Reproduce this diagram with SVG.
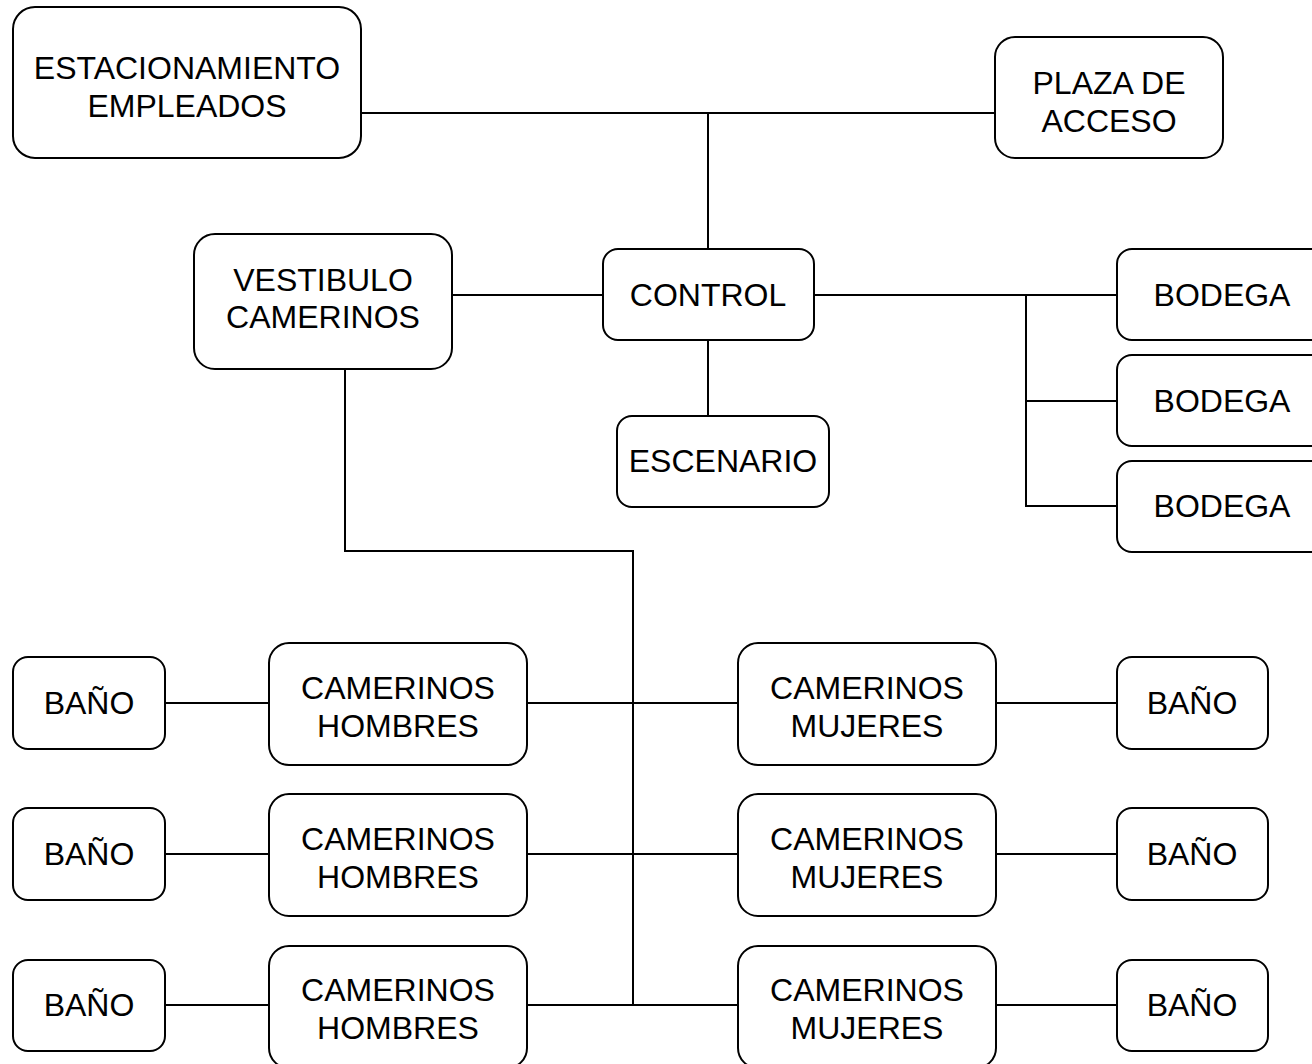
<svg xmlns="http://www.w3.org/2000/svg" width="1312" height="1064" viewBox="0 0 1312 1064">
<style>
.box{fill:#fff;stroke:#000;stroke-width:2}
.t{font-family:"Liberation Sans",Arial,sans-serif;font-size:32px;fill:#000;text-anchor:middle}
.c{fill:none;stroke:#000;stroke-width:2}
</style>
<rect width="1312" height="1064" fill="#fff"/>
<g id="connectors">
<path class="c" d="M361 113H995"/>
<path class="c" d="M708 113V249"/>
<path class="c" d="M452 295H603"/>
<path class="c" d="M708 340V416"/>
<path class="c" d="M814 295H1117"/>
<path class="c" d="M1026 295V506H1117"/>
<path class="c" d="M1026 401H1117"/>
<path class="c" d="M345 369V551H633V1005"/>
<path class="c" d="M165 703H269M527 703H738M996 703H1117"/>
<path class="c" d="M165 854H269M527 854H738M996 854H1117"/>
<path class="c" d="M165 1005H269M527 1005H738M996 1005H1117"/>
</g>
<g id="estacionamiento"><rect class="box" x="13" y="7" width="348" height="151" rx="22"/><text class="t" x="187" y="79">ESTACIONAMIENTO</text><text class="t" x="187" y="117">EMPLEADOS</text></g>
<g id="plaza"><rect class="box" x="995" y="37" width="228" height="121" rx="20"/><text class="t" x="1109" y="94">PLAZA DE</text><text class="t" x="1109" y="132">ACCESO</text></g>
<g id="vestibulo"><rect class="box" x="194" y="234" width="258" height="135" rx="21"/><text class="t" x="323" y="291">VESTIBULO</text><text class="t" x="323" y="328">CAMERINOS</text></g>
<g id="control"><rect class="box" x="603" y="249" width="211" height="91" rx="15"/><text class="t" x="708" y="306">CONTROL</text></g>
<g id="escenario"><rect class="box" x="617" y="416" width="212" height="91" rx="15"/><text class="t" x="723" y="472">ESCENARIO</text></g>
<g id="bodega1"><rect class="box" x="1117" y="249" width="212" height="91" rx="15"/><text class="t" x="1222" y="306">BODEGA</text></g>
<g id="bodega2"><rect class="box" x="1117" y="355" width="212" height="91" rx="15"/><text class="t" x="1222" y="412">BODEGA</text></g>
<g id="bodega3"><rect class="box" x="1117" y="461" width="212" height="91" rx="15"/><text class="t" x="1222" y="517">BODEGA</text></g>
<g id="bano-l1"><rect class="box" x="13" y="657" width="152" height="92" rx="15"/><text class="t" x="89" y="714">BAÑO</text></g>
<g id="bano-l2"><rect class="box" x="13" y="808" width="152" height="92" rx="15"/><text class="t" x="89" y="865">BAÑO</text></g>
<g id="bano-l3"><rect class="box" x="13" y="960" width="152" height="91" rx="15"/><text class="t" x="89" y="1016">BAÑO</text></g>
<g id="cam-h1"><rect class="box" x="269" y="643" width="258" height="122" rx="20"/><text class="t" x="398" y="699">CAMERINOS</text><text class="t" x="398" y="737">HOMBRES</text></g>
<g id="cam-h2"><rect class="box" x="269" y="794" width="258" height="122" rx="20"/><text class="t" x="398" y="850">CAMERINOS</text><text class="t" x="398" y="888">HOMBRES</text></g>
<g id="cam-h3"><rect class="box" x="269" y="946" width="258" height="122" rx="20"/><text class="t" x="398" y="1001">CAMERINOS</text><text class="t" x="398" y="1039">HOMBRES</text></g>
<g id="cam-m1"><rect class="box" x="738" y="643" width="258" height="122" rx="20"/><text class="t" x="867" y="699">CAMERINOS</text><text class="t" x="867" y="737">MUJERES</text></g>
<g id="cam-m2"><rect class="box" x="738" y="794" width="258" height="122" rx="20"/><text class="t" x="867" y="850">CAMERINOS</text><text class="t" x="867" y="888">MUJERES</text></g>
<g id="cam-m3"><rect class="box" x="738" y="946" width="258" height="122" rx="20"/><text class="t" x="867" y="1001">CAMERINOS</text><text class="t" x="867" y="1039">MUJERES</text></g>
<g id="bano-r1"><rect class="box" x="1117" y="657" width="151" height="92" rx="15"/><text class="t" x="1192" y="714">BAÑO</text></g>
<g id="bano-r2"><rect class="box" x="1117" y="808" width="151" height="92" rx="15"/><text class="t" x="1192" y="865">BAÑO</text></g>
<g id="bano-r3"><rect class="box" x="1117" y="960" width="151" height="91" rx="15"/><text class="t" x="1192" y="1016">BAÑO</text></g>
</svg>
